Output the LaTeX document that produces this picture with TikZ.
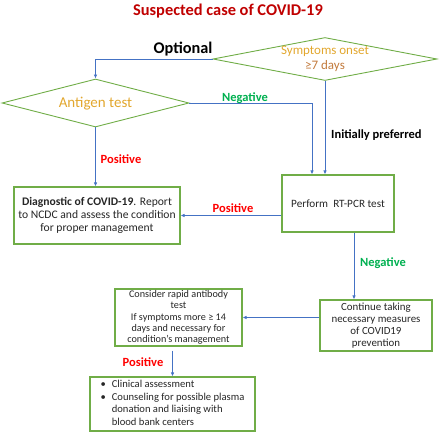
\documentclass[tikz,border=0pt]{standalone}
\usepackage{fontspec}
\setmainfont{Carlito}
\usetikzlibrary{shapes.geometric,arrows.meta,calc}
\definecolor{boxgreen}{HTML}{70AD47}
\definecolor{lineblue}{HTML}{4472C4}
\definecolor{neggreen}{HTML}{00B050}
\definecolor{posred}{HTML}{FF0000}
\definecolor{titlered}{HTML}{C00000}
\definecolor{gold}{HTML}{E2A72E}
\definecolor{brownish}{HTML}{C27A3C}
\tikzset{
  dia/.style={diamond, draw=boxgreen, line width=0.9pt, inner sep=0pt},
  box/.style={rectangle, draw=boxgreen, line width=1.1pt, inner sep=0pt, align=center, text=black!85},
  arr/.style={draw=lineblue, line width=0.9pt, -{Latex[length=4pt,width=3.5pt]}},
  lab/.style={font=\bfseries\fontsize{12.5}{14}\selectfont, inner sep=0pt},
}
\begin{document}
\begin{tikzpicture}[x=1pt,y=-1pt]
\useasboundingbox (0,0) rectangle (440,433);
% title
\node[font=\bfseries\fontsize{16.4}{18}\selectfont, text=titlered, inner sep=0pt] (title) at (228,11) {Suspected case of COVID-19};
% diamonds
\node[dia, minimum width=224pt, minimum height=43pt] (sym) at (325,59) {};
\node[align=center, font=\fontsize{13}{15}\selectfont, inner sep=0pt] (symt) at (325,59) {\textcolor{gold}{Symptoms onset}\\\textcolor{brownish}{≥7 days}};
\node[dia, minimum width=187pt, minimum height=48pt] (ant) at (95.5,103) {};
\node[font=\fontsize{15}{17}\selectfont, text=gold, inner sep=0pt] (antt) at (95.5,104) {Antigen test};
% boxes
\node[box, minimum width=166pt, minimum height=57pt, font=\fontsize{11.6}{13}\selectfont] (diag) at (97,215.5)
  {\textbf{Diagnostic of COVID-19}. Report\\to NCDC and assess the condition\\for proper management};
\node[box, minimum width=112pt, minimum height=57pt, font=\fontsize{11.2}{13}\selectfont] (rt) at (338,203.5) {Perform\ \ RT-PCR test};
\node[box, minimum width=112pt, minimum height=51pt, font=\fontsize{10.9}{12.2}\selectfont] (cont) at (376,325.5)
  {Continue taking\\necessary measures\\of COVID19\\prevention};
\node[box, minimum width=127pt, minimum height=57pt, font=\fontsize{10.2}{11.3}\selectfont] (cons) at (178.5,317.5)
  {Consider rapid antibody\\test\\If symptoms more ≥ 14\\days and necessary for\\condition’s management};
\node[box, minimum width=165pt, minimum height=54pt, font=\fontsize{10.6}{12.8}\selectfont, align=left] (cli) at (172.5,404)
  {\begin{tabular}{@{}l@{\hspace{6pt}}l@{}}
   \textbullet & Clinical assessment\\
   \textbullet & Counseling for possible plasma\\
               & donation and liaising with\\
               & blood bank centers
   \end{tabular}};
% connectors
\draw[arr] (sym.west) -| (ant.north);
\node[font=\bfseries\fontsize{16.3}{18}\selectfont, inner sep=0pt] (opt) at (183,49) {Optional};
\coordinate (rtin1) at ($(rt.north)+(-26,0)$);
\draw[arr] (ant.east) -| (rtin1);
\node[lab, text=neggreen] (neg1) at (245,98) {Negative};
\draw[arr] (sym.south) -- (sym.south |- rt.north);
\node[lab, anchor=west] (ip) at (331,135) {Initially preferred};
\draw[arr] (ant.south) -- (ant.south |- diag.north);
\node[lab, text=posred] (pos1) at (121,159) {Positive};
\draw[arr] (diag.east -| rt.west) -- (diag.east);
\node[lab, text=posred] (pos2) at (233,208) {Positive};
\coordinate (rtout) at ($(rt.south)+(16,0)$);
\draw[arr] (rtout) -- (rtout |- cont.north);
\node[lab, text=neggreen] (neg2) at (383,263) {Negative};
\draw[arr] (cont.west |- cons.east) -- (cons.east);
\coordinate (consout) at ($(cli.north |- cons.south)+(0,4)$);
\draw[arr] (consout) -- (cli.north);
\node[lab, text=posred] (pos3) at (143,362) {Positive};
\end{tikzpicture}
\end{document}
